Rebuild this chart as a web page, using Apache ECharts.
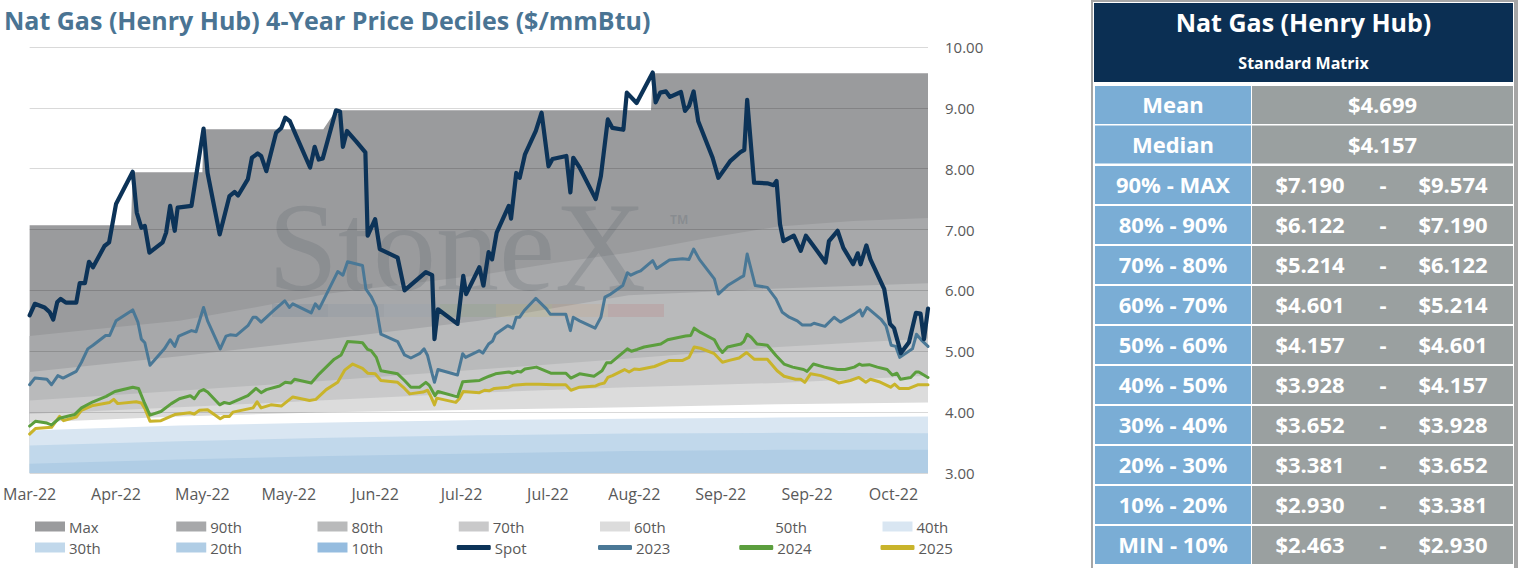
<!DOCTYPE html>
<html>
<head>
<meta charset="utf-8">
<script src="https://cdn.jsdelivr.net/npm/echarts@6/dist/echarts.min.js"></script>
<style>
html,body{margin:0;padding:0;background:#fff;}
#chart{width:1518px;height:568px;}
</style>
</head>
<body>
<div id="chart"></div>
<script>
// ---------- DATA ----------
const chartTitle = 'Nat Gas (Henry Hub) 4-Year Price Deciles ($/mmBtu)';
const xTickLabels = ['Mar-22','Apr-22','May-22','May-22','Jun-22','Jul-22','Jul-22','Aug-22','Sep-22','Sep-22','Oct-22'];
// x = trading-day index, y = $/mmBtu
const maxVals = [[0,7.07],[17.6,7.07],[17.9,7.94],[30,7.94],[30.2,8.65],[51,8.65],[53.2,8.96],[107.9,8.96],[108.2,9.57],[156,9.57]];
const p90 = [[0,5.25],[13,5.38],[26,5.50],[39,5.72],[52,5.95],[65,6.10],[78,6.25],[91,6.45],[104,6.62],[117,6.85],[130,7.05],[143,7.14],[156,7.19]];
const p80 = [[0,4.66],[26,4.92],[52,5.20],[78,5.50],[104,5.92],[130,6.03],[156,6.12]];
const p70 = [[0,4.19],[26,4.35],[52,4.52],[78,4.70],[104,4.88],[130,5.07],[156,5.21]];
const p60 = [[0,3.97],[26,4.08],[52,4.20],[78,4.32],[104,4.41],[130,4.48],[156,4.60]];
const p50 = [[0,3.83],[26,3.93],[52,4.00],[78,4.04],[104,4.08],[130,4.13],[156,4.157]];
const p40 = [[0,3.70],[26,3.78],[52,3.83],[78,3.87],[104,3.89],[130,3.91],[156,3.928]];
const p30 = [[0,3.45],[26,3.52],[52,3.58],[78,3.62],[104,3.65],[130,3.66],[156,3.652]];
const p20 = [[0,3.15],[26,3.22],[52,3.28],[78,3.32],[104,3.36],[130,3.38],[156,3.381]];
const p10 = [[0,2.70],[78,2.82],[156,2.93]];

const spot = [[0,5.59],[0.9,5.78],[2.6,5.72],[3.5,5.64],[4.1,5.52],[4.8,5.81],[5.4,5.86],[6.3,5.80],[8.1,5.80],[8.7,6.12],[9.6,6.12],[10.3,6.47],[11,6.38],[13,6.73],[13.8,6.79],[15,7.42],[17.9,7.95],[18.6,7.28],[19.4,7.03],[20,7.06],[20.8,6.62],[23.1,6.79],[23.7,6.95],[24.4,7.39],[25.2,6.98],[25.7,7.36],[28.1,7.39],[30.2,8.66],[30.9,7.93],[33,6.92],[34.7,7.55],[35.6,7.62],[36.2,7.56],[37.9,7.83],[38.6,8.18],[39.6,8.25],[40.2,8.21],[41.1,7.96],[42.8,8.59],[43.7,8.67],[44.4,8.84],[45.2,8.78],[46.2,8.56],[48.7,8.02],[49.5,8.36],[50.2,8.15],[50.9,8.17],[53.2,8.96],[53.9,8.94],[54.4,8.36],[55.1,8.62],[56.7,8.45],[58.3,8.27],[58.7,6.90],[60,7.17],[60.8,6.68],[63.9,6.54],[65.1,6.0],[68.8,6.30],[69.9,6.25],[70.3,5.20],[70.9,5.69],[74.3,5.45],[75.3,6.24],[75.8,5.94],[78.1,6.38],[78.8,6.08],[79.7,6.63],[80.3,6.51],[81.1,6.95],[83.2,7.39],[83.6,7.18],[84.5,7.93],[85.1,7.85],[86,8.23],[87.9,8.62],[88.9,8.92],[90.1,8.04],[90.8,8.16],[93.2,8.21],[93.9,7.61],[94.4,8.18],[95.5,8.02],[98.3,7.50],[99.2,7.88],[100.4,8.81],[101.2,8.67],[103.1,8.64],[103.7,9.25],[105.4,9.08],[108.2,9.58],[108.7,9.09],[109.5,9.25],[110.5,9.27],[111.2,9.18],[113.1,9.26],[113.8,8.95],[114.5,9.03],[115.3,9.27],[116.1,8.78],[118.6,8.18],[119.6,7.85],[121.7,8.13],[123.4,8.27],[124.1,8.31],[124.6,9.13],[125.8,7.77],[128.1,7.76],[129.2,7.73],[129.7,7.80],[130.3,7.09],[130.9,6.81],[132.7,6.90],[133.9,6.65],[134.8,6.90],[135.9,6.76],[138.2,6.46],[138.8,6.81],[140.3,6.98],[141.3,6.70],[143,6.43],[143.8,6.61],[144.3,6.43],[145.3,6.74],[146,6.51],[148.4,6.02],[149.4,5.45],[150.1,5.38],[151.3,4.97],[152.7,5.15],[153.9,5.63],[154.7,5.62],[155.3,5.20],[156,5.70]];

const y2023 = [[0,4.45],[0.9,4.56],[3,4.54],[3.8,4.45],[4.9,4.60],[5.8,4.56],[8.1,4.67],[9,4.82],[10.1,5.04],[11,5.10],[13.2,5.26],[13.9,5.26],[15,5.50],[17.9,5.68],[18.8,5.48],[19.4,5.20],[20,5.14],[20.9,4.77],[23.4,5.04],[24.4,5.19],[25.2,5.08],[25.9,5.25],[28.1,5.34],[28.9,5.32],[30.2,5.72],[30.9,5.50],[33.1,5.04],[34.1,5.25],[34.8,5.27],[35.9,5.26],[37.9,5.42],[38.8,5.56],[39.3,5.56],[40.2,5.48],[42.5,5.68],[44.3,5.83],[45.1,5.72],[45.7,5.78],[48.9,5.63],[49.6,5.78],[50.3,5.70],[53.5,6.31],[54.4,6.25],[55.2,6.47],[57.8,6.41],[58.4,6.02],[59.3,5.90],[60.2,5.72],[61,5.28],[63.9,5.16],[65.1,4.94],[66.2,4.89],[67.7,4.96],[68.5,5.04],[69.1,4.93],[69.9,4.63],[70.3,4.49],[70.9,4.70],[74.3,4.61],[75.2,4.96],[75.7,4.90],[78.1,5.01],[78.7,4.97],[79.7,5.12],[80.4,5.17],[80.9,5.28],[83,5.42],[83.9,5.38],[84.5,5.56],[85.1,5.56],[85.9,5.67],[87.9,5.87],[89.7,5.70],[90.4,5.61],[93.1,5.61],[93.9,5.34],[94.4,5.56],[95.5,5.50],[98.2,5.38],[99.2,5.56],[99.9,5.89],[100.9,5.94],[103,6.08],[103.8,6.29],[104.4,6.25],[105.5,6.30],[106.1,6.32],[108.2,6.49],[108.9,6.36],[111.1,6.50],[113.4,6.52],[114.5,6.51],[115.3,6.68],[116.3,6.51],[118.9,6.19],[119.6,5.94],[121.2,6.08],[123.4,6.21],[124,6.24],[124.6,6.60],[126,6.08],[128.1,6.05],[129.6,5.86],[130.7,5.64],[131.9,5.56],[133.3,5.50],[134.2,5.43],[135.6,5.43],[136.2,5.46],[138.1,5.41],[139.7,5.56],[140.8,5.48],[143.2,5.61],[144.2,5.68],[144.6,5.58],[145.4,5.72],[147.8,5.53],[148.7,5.42],[149.6,5.10],[150.4,5.08],[151.1,4.90],[153.3,5.04],[154,5.28],[155,5.17],[156,5.08]];

const y2024 = [[0,3.77],[1,3.85],[3,3.82],[3.8,3.79],[5.2,3.90],[7.8,3.96],[9,4.07],[11,4.17],[13.3,4.26],[14.8,4.34],[17.9,4.41],[18.9,4.39],[19.9,4.16],[20.9,3.95],[22.8,4.01],[24.6,4.14],[26,4.22],[27.9,4.27],[28.6,4.22],[29.5,4.34],[30.2,4.37],[30.9,4.33],[33,4.12],[33.8,4.16],[34.7,4.14],[37.9,4.27],[39.3,4.39],[40.2,4.32],[41.1,4.37],[43.4,4.43],[44.4,4.49],[45.4,4.48],[46,4.54],[48.9,4.48],[50.3,4.63],[52.9,4.87],[54.1,4.94],[55.2,5.16],[57,5.15],[57.8,5.14],[58.7,5.03],[59.3,5.01],[60.2,4.90],[61,4.68],[63.9,4.63],[65.1,4.52],[66.2,4.41],[67.7,4.41],[68.8,4.49],[69.4,4.44],[70.4,4.27],[70.9,4.34],[74.3,4.25],[75.2,4.50],[78.1,4.52],[78.8,4.55],[79.8,4.59],[80.9,4.63],[83.2,4.66],[83.9,4.64],[84.7,4.67],[85.3,4.66],[86,4.71],[88,4.74],[90.5,4.64],[93.1,4.64],[94,4.56],[95.5,4.63],[98,4.59],[99.4,4.68],[100.2,4.81],[100.9,4.81],[103.8,5.04],[104.5,5.00],[105.5,5.03],[106.7,5.07],[108.4,5.10],[109.6,5.12],[110.8,5.19],[113.9,5.25],[114.8,5.26],[115.4,5.38],[116.5,5.31],[118.9,5.19],[119.7,5.05],[120.3,4.98],[121.2,5.07],[123.5,5.12],[124,5.16],[124.6,5.28],[125.3,5.23],[126.3,5.12],[128.1,5.10],[129.6,4.93],[131,4.79],[132.5,4.74],[134.4,4.70],[135,4.67],[136.1,4.79],[138,4.74],[140.3,4.70],[141.6,4.70],[143.2,4.74],[144.1,4.79],[144.6,4.77],[145.8,4.78],[147.2,4.74],[148.9,4.70],[149.8,4.61],[150.6,4.64],[151.2,4.54],[153,4.57],[153.9,4.66],[154.4,4.66],[156,4.57]];

const y2025 = [[0,3.64],[1,3.73],[3.8,3.75],[5.2,3.93],[5.9,3.86],[8.1,3.92],[9,4.03],[11,4.11],[13.9,4.16],[14.6,4.21],[15.3,4.14],[18.5,4.17],[19.4,4.15],[20,4.06],[20.9,3.85],[22.8,3.86],[25.2,3.96],[27.8,3.99],[28.6,3.97],[29.5,4.03],[30.9,4.04],[33.1,3.89],[33.8,3.93],[34.7,3.93],[35.3,4.00],[38.8,4.07],[39.5,4.17],[40.2,4.07],[41.9,4.12],[43.7,4.10],[45.7,4.25],[48.6,4.19],[49.7,4.21],[51.5,4.37],[53.5,4.49],[54.7,4.69],[56.1,4.79],[57.8,4.72],[58.7,4.64],[60,4.63],[61,4.52],[63.9,4.49],[65.1,4.39],[66,4.30],[68.3,4.33],[69.1,4.36],[69.7,4.25],[70.3,4.12],[70.7,4.23],[74,4.16],[74.6,4.22],[75.3,4.34],[78.1,4.32],[79,4.36],[79.8,4.35],[80.7,4.39],[83.2,4.41],[83.9,4.44],[86.2,4.46],[88.5,4.46],[90.8,4.45],[93.1,4.45],[94,4.36],[95.5,4.41],[98.3,4.43],[99,4.46],[99.8,4.48],[100.4,4.57],[101.2,4.60],[103.3,4.70],[104.1,4.66],[105,4.71],[105.9,4.70],[108.5,4.75],[111.1,4.85],[113.4,4.85],[114.5,4.90],[115.4,5.07],[116.5,5.05],[118.9,4.96],[120.3,4.82],[121.5,4.85],[123.2,4.89],[124.5,4.98],[125.8,4.87],[128.1,4.87],[129.8,4.68],[131,4.59],[133,4.54],[133.9,4.54],[134.6,4.49],[135.6,4.63],[137.4,4.60],[139.7,4.52],[140.5,4.48],[142.5,4.52],[144,4.57],[145.2,4.49],[146,4.54],[147.5,4.50],[149.5,4.41],[150.2,4.46],[151,4.39],[152.7,4.39],[154.2,4.45],[156,4.45]];

// table
const tableTitle = 'Nat Gas (Henry Hub)';
const tableSubtitle = 'Standard Matrix';
const statLabels = ['Mean','Median'];
const statValues = ['$4.699','$4.157'];
const rangeLabels = ['90% - MAX','80% - 90%','70% - 80%','60% - 70%','50% - 60%','40% - 50%','30% - 40%','20% - 30%','10% - 20%','MIN - 10%'];
const rangeLow  = ['$7.190','$6.122','$5.214','$4.601','$4.157','$3.928','$3.652','$3.381','$2.930','$2.463'];
const rangeHigh = ['$9.574','$7.190','$6.122','$5.214','$4.601','$4.157','$3.928','$3.652','$3.381','$2.930'];

// ---------- STYLE ----------
const FONT = '"Open Sans", "Noto Sans", sans-serif';
const bands = [
  ['Max', maxVals, '#9a9b9d'],
  ['90th', p90, '#a7a8aa'],
  ['80th', p80, '#b9babb'],
  ['70th', p70, '#c9c9ca'],
  ['60th', p60, '#dcdcdc'],
  ['50th', p50, '#ffffff'],
  ['40th', p40, '#d9e6f2'],
  ['30th', p30, '#c1d8eb'],
  ['20th', p20, '#b0cde5'],
  ['10th', p10, '#95bcdf']
];
const lines = [
  ['2025', y2025, '#c9b42b', 3],
  ['2024', y2024, '#5b9e3d', 3],
  ['2023', y2023, '#4a7896', 3],
  ['Spot', spot, '#0c3358', 4.2]
];

const series = [];
bands.forEach(([name, data, color]) => {
  series.push({
    name, type: 'line', data, color, z: 1,
    showSymbol: false, symbol: 'none', silent: true, animation: false,
    lineStyle: { width: 0, color },
    areaStyle: { color, opacity: 1, origin: 'start' }
  });
});
lines.forEach(([name, data, color, w]) => {
  series.push({
    name, type: 'line', data, color, z: 4,
    showSymbol: false, symbol: 'none', animation: false,
    lineStyle: { width: w, color, cap: 'round', join: 'round' }
  });
});

// legend layout
const legendOrder = [
  ['Max','90th','80th','70th','60th','50th','40th'],
  ['30th','20th','10th','Spot','2023','2024','2025']
];
const lineNames = ['Spot','2023','2024','2025'];
const legends = [];
legendOrder.forEach((row, r) => {
  row.forEach((name, c) => {
    const isLine = lineNames.indexOf(name) >= 0;
    const colX = 35 + c * 141.25;
    legends.push({
      data: [name],
      left: isLine ? colX - 2 : colX,
      top: (r === 0 ? 528 : 549) - 9,
      orient: 'horizontal',
      padding: 0,
      itemGap: 0,
      selectedMode: false,
      icon: isLine ? 'roundRect' : 'rect',
      itemWidth: isLine ? 34 : 30,
      itemHeight: isLine ? 5 : 10,
      itemStyle: { borderWidth: 0 },
      lineStyle: { width: 0 },
      textStyle: { color: '#595959', fontSize: 15, fontFamily: FONT, padding: [0, 0, 0, -1] }
    });
  });
});

// graphic: watermark + table
const graphics = [];
graphics.push({
  type: 'text', z: 2, silent: true,
  style: { text: 'StoneX', x: 268, y: 247, font: '126px "Liberation Serif", "DejaVu Serif", serif',
           fill: 'rgba(85,95,105,0.22)', verticalAlign: 'middle', align: 'left' }
});
graphics.push({
  type: 'text', z: 2, silent: true,
  style: { text: 'TM', x: 670, y: 219, font: 'bold 12px ' + FONT, fill: 'rgba(85,95,105,0.25)', verticalAlign: 'middle' }
});
const barColors = ['rgba(31,78,121,0.10)','rgba(74,120,150,0.10)','rgba(120,160,190,0.10)','rgba(91,158,61,0.10)','rgba(201,180,43,0.12)','rgba(214,140,70,0.12)','rgba(192,80,77,0.14)'];
barColors.forEach((col, k) => {
  graphics.push({ type: 'rect', z: 2, silent: true,
    shape: { x: 272 + k * 56, y: 304, width: 56, height: 13 }, style: { fill: col } });
});

// table frame
graphics.push({ type: 'rect', z: 10, silent: true, shape: { x: 1091, y: 0, width: 427, height: 568 }, style: { fill: '#a6a6a6' } });
graphics.push({ type: 'rect', z: 11, silent: true, shape: { x: 1093, y: 2, width: 421, height: 568 }, style: { fill: '#ffffff' } });
graphics.push({ type: 'rect', z: 12, silent: true, shape: { x: 1094, y: 3, width: 419, height: 79 }, style: { fill: '#0b2f53' } });
graphics.push({ type: 'text', z: 13, silent: true, style: { text: tableTitle, x: 1303.5, y: 22, align: 'center', verticalAlign: 'middle', font: 'bold 25px ' + FONT, fill: '#ffffff' } });
graphics.push({ type: 'text', z: 13, silent: true, style: { text: tableSubtitle, x: 1303.5, y: 63, align: 'center', verticalAlign: 'middle', font: 'bold 16px ' + FONT, fill: '#ffffff' } });

const LBLUE = '#7aadd5', CGRAY = '#9aa0a0';
const CELLFONT = 'bold 22px ' + FONT;
const TXT_DY = 18;
function addRow(top, label) {
  graphics.push({ type: 'rect', z: 12, silent: true, shape: { x: 1095, y: top, width: 156, height: 38 }, style: { fill: LBLUE } });
  graphics.push({ type: 'rect', z: 12, silent: true, shape: { x: 1252, y: top, width: 261, height: 38 }, style: { fill: CGRAY } });
  graphics.push({ type: 'text', z: 13, silent: true, style: { text: label, x: 1173, y: top + TXT_DY, align: 'center', verticalAlign: 'middle', font: CELLFONT, fill: '#ffffff' } });
}
statLabels.forEach((lab, k) => {
  const top = 86 + k * 39.5;
  addRow(top, lab);
  graphics.push({ type: 'text', z: 13, silent: true, style: { text: statValues[k], x: 1382.5, y: top + TXT_DY, align: 'center', verticalAlign: 'middle', font: CELLFONT, fill: '#ffffff' } });
});
rangeLabels.forEach((lab, k) => {
  const top = 166 + k * 40;
  addRow(top, lab);
  graphics.push({ type: 'text', z: 13, silent: true, style: { text: rangeLow[k], x: 1310, y: top + TXT_DY, align: 'center', verticalAlign: 'middle', font: CELLFONT, fill: '#ffffff' } });
  graphics.push({ type: 'text', z: 13, silent: true, style: { text: '-', x: 1383, y: top + TXT_DY, align: 'center', verticalAlign: 'middle', font: CELLFONT, fill: '#ffffff' } });
  graphics.push({ type: 'text', z: 13, silent: true, style: { text: rangeHigh[k], x: 1453, y: top + TXT_DY, align: 'center', verticalAlign: 'middle', font: CELLFONT, fill: '#ffffff' } });
});

const chart = echarts.init(document.getElementById('chart'), null, { renderer: 'svg' });
chart.setOption({
  animation: false,
  backgroundColor: '#ffffff',
  title: {
    text: chartTitle, left: 4, top: 7, padding: 0,
    textStyle: { color: '#4a7493', fontSize: 25, fontWeight: 'bold', fontFamily: FONT }
  },
  grid: { left: 28.3, right: 590, top: 47, bottom: 95, containLabel: false },
  xAxis: {
    type: 'value', min: 0, max: 156, interval: 15,
    axisLine: { show: false }, axisTick: { show: false }, splitLine: { show: false },
    axisLabel: {
      color: '#595959', fontSize: 16, fontFamily: FONT, margin: 13,
      showMaxLabel: false,
      formatter: v => (v % 15 === 0 ? (xTickLabels[v / 15] || '') : '')
    }
  },
  yAxis: {
    type: 'value', position: 'right', min: 3, max: 10, interval: 1, z: 3,
    axisLine: { show: false }, axisTick: { show: false },
    splitLine: { show: true, lineStyle: { color: 'rgba(0,0,0,0.15)', width: 1 } },
    axisLabel: { color: '#595959', fontSize: 15, fontFamily: FONT, margin: 17, formatter: v => v.toFixed(2) }
  },
  legend: legends,
  graphic: { elements: graphics },
  series
});
</script>
</body>
</html>
